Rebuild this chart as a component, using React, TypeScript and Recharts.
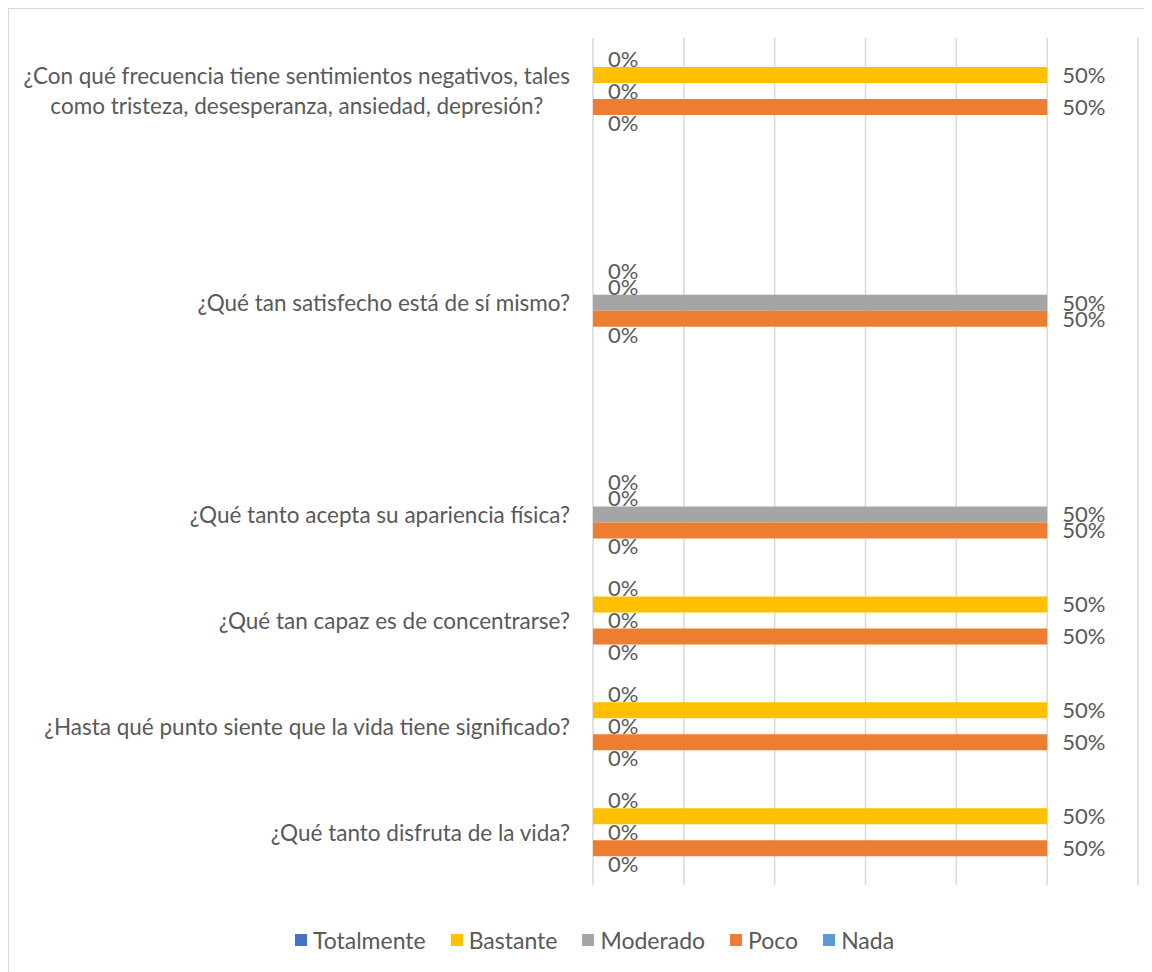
import React, { useLayoutEffect, useRef, useState } from 'react';
import { BarChart, Bar, XAxis, YAxis, CartesianGrid, Legend, LabelList } from 'recharts';

// Category labels (top to bottom). Empty strings are blank rows in the original sheet.
const categories = [
  '¿Con qué frecuencia tiene sentimientos negativos, tales\ncomo tristeza, desesperanza, ansiedad, depresión?',
  '',
  '¿Qué tan satisfecho está de sí mismo?',
  '',
  '¿Qué tanto acepta su apariencia física?',
  '¿Qué tan capaz es de concentrarse?',
  '¿Hasta qué punto siente que la vida tiene significado?',
  '¿Qué tanto disfruta de la vida?',
];

const totalmente = [0, null, 0, null, 0, 0, 0, 0];
const bastante = [50, null, 0, null, 0, 50, 50, 50];
const moderado = [0, null, 50, null, 50, 0, 0, 0];
const poco = [50, null, 50, null, 50, 50, 50, 50];
const nada = [0, null, 0, null, 0, 0, 0, 0];

const xTicks = [0, 10, 20, 30, 40, 50, 60];

const series = [
  { key: 'totalmente', name: 'Totalmente', color: '#4472C4', values: totalmente },
  { key: 'bastante', name: 'Bastante', color: '#FFC000', values: bastante },
  { key: 'moderado', name: 'Moderado', color: '#A5A5A5', values: moderado },
  { key: 'poco', name: 'Poco', color: '#ED7D31', values: poco },
  { key: 'nada', name: 'Nada', color: '#5B9BD5', values: nada },
];

const FONT = 'Lato';
const CAT_SIZE = 22.5;
const LABEL_SIZE = 22;
const LEGEND_SIZE = 23;
const TEXT = '#595959';

const chartData = categories.map((label, i) => {
  const row: any = { key: `c${i}`, label };
  series.forEach(s => {
    row[s.key] = s.values[i];
  });
  return row;
});

const labelByKey: Record<string, string> = {};
chartData.forEach(r => {
  labelByKey[r.key] = r.label;
});

// wrapped labels: lines centred on each other, block right-aligned at the tick
const WrappedLabel = ({ x, y, lines }: { x: number; y: number; lines: string[] }) => {
  const refs = useRef<(SVGTextElement | null)[]>([]);
  const [widths, setWidths] = useState<number[] | null>(null);
  useLayoutEffect(() => {
    setWidths(refs.current.map(r => (r ? r.getComputedTextLength() : 0)));
  }, [lines.join('|')]);
  const block = widths ? Math.max(...widths) : 0;
  const lh = 30;
  return (
    <g>
      {lines.map((l, i) => (
        <text
          key={i}
          ref={el => {
            refs.current[i] = el;
          }}
          x={x - (widths ? (block - widths[i]) / 2 : 0)}
          y={y + (i - (lines.length - 1) / 2) * lh}
          textAnchor="end"
          dominantBaseline="central"
          fontFamily={FONT}
          fontSize={CAT_SIZE}
          fill={TEXT}
        >
          {l}
        </text>
      ))}
    </g>
  );
};

const CategoryTick = ({ x, y, payload }: any) => {
  const label = labelByKey[payload.value] || '';
  if (!label) return null;
  const lines = label.split('\n');
  if (lines.length > 1) return <WrappedLabel x={x} y={y} lines={lines} />;
  return (
    <text x={x} y={y} textAnchor="end" dominantBaseline="central" fontFamily={FONT} fontSize={CAT_SIZE} fill={TEXT}>
      {label}
    </text>
  );
};

const LegendContent = () => (
  <div
    style={{
      height: 70,
      display: 'flex',
      justifyContent: 'center',
      alignItems: 'flex-start',
      paddingTop: 44,
      paddingLeft: 42,
      boxSizing: 'border-box',
      fontFamily: FONT,
      fontSize: LEGEND_SIZE,
      color: TEXT,
      lineHeight: '22px',
    }}
  >
    {series.map((s, i) => (
      <div
        key={s.key}
        style={{ display: 'flex', alignItems: 'center', marginRight: i === series.length - 1 ? 0 : 25 }}
      >
        <span style={{ width: 12, height: 12, background: s.color, display: 'inline-block', marginRight: 6 }} />
        <span>{s.name}</span>
      </div>
    ))}
  </div>
);

const App: React.FC = () => {
  // the chart frame runs past the page edge on the right and bottom; keep the page from scrolling
  useLayoutEffect(() => {
    document.documentElement.style.overflow = 'hidden';
    document.body.style.overflow = 'hidden';
  }, []);

  return (
    <div
      style={{
        width: 1144,
        height: 964,
        borderTop: '1px solid #D9D9D9',
        borderLeft: '1px solid #D9D9D9',
        boxSizing: 'border-box',
        background: '#fff',
      }}
    >
      <BarChart
        width={1143}
        height={963}
        data={chartData}
        layout="vertical"
        margin={{ top: 29, right: 14, bottom: 17, left: 0 }}
        barSize={16}
        barGap={0}
      >
        <CartesianGrid horizontal={false} stroke="#D9D9D9" strokeWidth={1.5} />
        <XAxis
          type="number"
          domain={[0, 60]}
          ticks={xTicks}
          interval={0}
          tick={() => null}
          axisLine={false}
          tickLine={false}
          height={0}
        />
        <YAxis
          type="category"
          dataKey="key"
          width={584}
          axisLine={false}
          tickLine={false}
          tickSize={0}
          tickMargin={23}
          interval={0}
          tick={<CategoryTick />}
        />
        <Legend verticalAlign="bottom" content={<LegendContent />} />
        {series.map(s => (
          <Bar
            key={s.key}
            dataKey={s.key}
            name={s.name}
            fill={s.color}
            minPointSize={(v: any) => (v === 0 ? 0.01 : 0)}
            isAnimationActive={false}
          >
            <LabelList
              dataKey={s.key}
              position="right"
              offset={15}
              fill={TEXT}
              fontFamily={FONT}
              fontSize={LABEL_SIZE}
              formatter={(v: any) => (v === null || v === undefined ? '' : `${v}%`)}
            />
          </Bar>
        ))}
      </BarChart>
    </div>
  );
};

export default App;
